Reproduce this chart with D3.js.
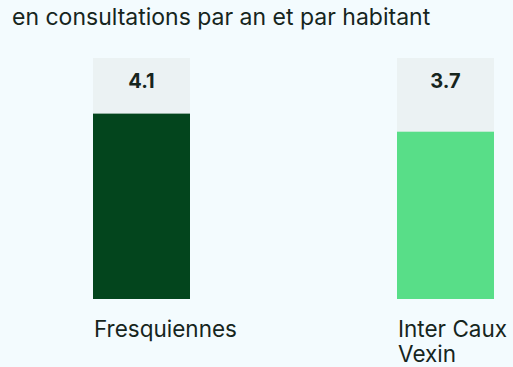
<!DOCTYPE html>
<html>
<head>
<meta charset="utf-8">
<script src="https://cdn.jsdelivr.net/npm/d3@7"></script>
<style>
  html, body { margin: 0; padding: 0; background: #f3fbfe; }
  svg { display: block; font-family: Inter, "Noto Sans", sans-serif; }
</style>
</head>
<body>
<svg id="chart" width="513" height="367"></svg>
<script>
// Consultations per year and per inhabitant
const categories = ["Fresquiennes", "Inter Caux Vexin"];
const values = [4.1, 3.7];
const labelLines = [["Fresquiennes"], ["Inter Caux", "Vexin"]];
const barColors = ["#03451d", "#58de88"];

const svg = d3.select("#chart");

svg.append("text")
  .attr("x", 12).attr("y", 25)
  .attr("fill", "#16251d")
  .attr("font-size", 23)
  .text("en consultations par an et par habitant");

const x = d3.scaleBand()
  .domain(categories)
  .range([93, 494])
  .paddingInner(207 / 304)
  .paddingOuter(0);
const barW = x.bandwidth();

const y = d3.scaleLinear()
  .domain([0, d3.max(values) * 1.3])
  .range([299, 58]);

const g = svg.append("g");
const data = categories.map((c, i) => ({ c, v: values[i], color: barColors[i], lines: labelLines[i] }));

// track behind each bar, up to the top of the value domain
g.selectAll("rect.track").data(data).join("rect")
  .attr("class", "track")
  .attr("x", d => x(d.c)).attr("width", barW)
  .attr("y", y(y.domain()[1])).attr("height", y(0) - y(y.domain()[1]))
  .attr("fill", "#ebf2f3");

g.selectAll("rect.bar").data(data).join("rect")
  .attr("class", "bar")
  .attr("x", d => x(d.c)).attr("width", barW)
  .attr("y", d => y(d.v)).attr("height", d => y(0) - y(d.v))
  .attr("fill", d => d.color);

g.selectAll("text.val").data(data).join("text")
  .attr("class", "val")
  .attr("x", d => x(d.c) + barW / 2)
  .attr("y", 88)
  .attr("text-anchor", "middle")
  .attr("font-size", 20)
  .attr("font-weight", 700)
  .attr("fill", "#16251d")
  .text(d => d.v.toFixed(1));

// category labels, one text per line
g.selectAll("g.cat").data(data).join("g")
  .attr("class", "cat")
  .selectAll("text").data(d => d.lines.map((l, i) => ({ l, i, x: x(d.c) + 1 }))).join("text")
  .attr("x", t => t.x)
  .attr("y", t => 337 + t.i * 24.5)
  .attr("font-size", 22.5)
  .attr("fill", "#16251d")
  .text(t => t.l);
</script>
</body>
</html>
